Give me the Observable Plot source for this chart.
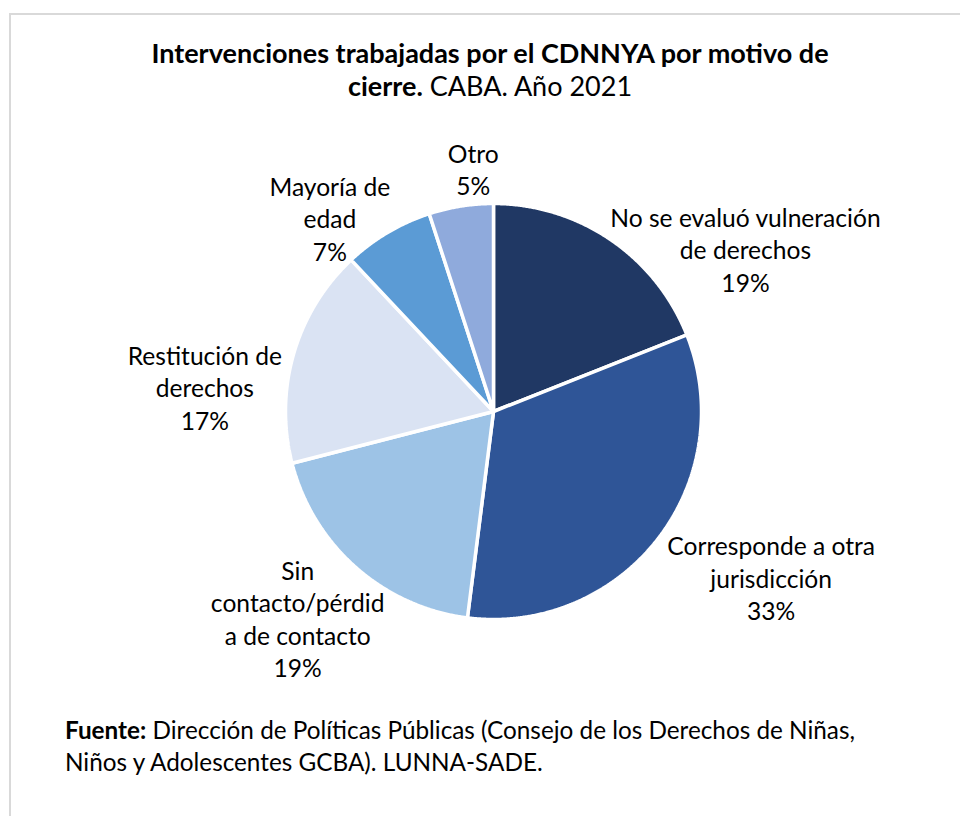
<!DOCTYPE html>
<html>
<head>
<meta charset="utf-8">
<script src="https://cdn.jsdelivr.net/npm/d3@7"></script>
<script src="https://cdn.jsdelivr.net/npm/@observablehq/plot@0.6"></script>
<style>
  html, body { margin: 0; padding: 0; background: #fff; }
  #page { position: relative; width: 960px; height: 816px; overflow: hidden; font-family: Lato, "Open Sans", sans-serif; color: #000; }
  #frame { position: absolute; left: 9px; top: 13px; width: 1000px; height: 900px; border: 2px solid #d9d9d9; box-sizing: border-box; }
  #title { position: absolute; left: 0; top: 36px; width: 980px; text-align: center; font-size: 27px; line-height: 33px; }
  #chart { position: absolute; left: 0; top: 0; }
  #caption { position: absolute; left: 65px; top: 714px; font-size: 24.3px; line-height: 32px; white-space: nowrap; }
</style>
</head>
<body>
<div id="page">
  <div id="frame"></div>
  <div id="title"><b>Intervenciones trabajadas por el CDNNYA por motivo de<br>cierre.</b> CABA. Año 2021</div>
  <div id="chart"></div>
  <div id="caption"><b>Fuente:</b> Dirección de Políticas Públicas (Consejo de los Derechos de Niñas,<br>Niños y Adolescentes GCBA). LUNNA-SADE.</div>
</div>
<script>
// ---- data ----
const categories = [
  "No se evaluó vulneración de derechos",
  "Corresponde a otra jurisdicción",
  "Sin contacto/pérdida de contacto",
  "Restitución de derechos",
  "Mayoría de edad",
  "Otro"
];
const shares = [19, 33, 19, 17, 7, 5];
const labelTexts = [
  "No se evaluó vulneración\nde derechos",
  "Corresponde a otra\njurisdicción",
  "Sin\ncontacto/pérdid\na de contacto",
  "Restitución de\nderechos",
  "Mayoría de\nedad",
  "Otro"
];

// ---- layout (not data) ----
const R = 208; // px radius
const palette = ["#203864", "#2F5597", "#9DC3E6", "#DAE3F3", "#5B9BD5", "#8FAADC"];
const labelNudgePx = { // pixel nudges from radial position
  0: [100, 61], 1: [64, 0], 2: [-17, 4], 3: [-29, 51], 4: [-26, 39], 5: [22, 24]
};

const rows = categories.map((c, i) => ({category: c, share: shares[i], label: labelTexts[i] + "\n" + shares[i] + "%", i}));
const arcs = d3.pie().sort(null).value(d => d.share)(rows);

const slicePts = [];
for (const a of arcs) {
  slicePts.push({category: a.data.category, x: 0, y: 0});
  const n = Math.max(2, Math.ceil((a.endAngle - a.startAngle) / 0.005));
  for (let k = 0; k <= n; k++) {
    const t = a.startAngle + (a.endAngle - a.startAngle) * k / n;
    slicePts.push({category: a.data.category, x: Math.sin(t), y: Math.cos(t)});
  }
  slicePts.push({category: a.data.category, x: 0, y: 0});
}

const labels = arcs.map(a => {
  const m = (a.startAngle + a.endAngle) / 2;
  const [nx, ny] = labelNudgePx[a.data.i];
  return {label: a.data.label, x: 1.3 * Math.sin(m) + nx / R, y: 1.3 * Math.cos(m) - ny / R};
});

const fs = 24.6;
const chart = Plot.plot({
  width: 960,
  height: 816,
  margin: 0,
  x: {domain: [-1, 1], range: [493 - R, 493 + R], axis: null},
  y: {domain: [-1, 1], range: [411 + R, 411 - R], axis: null},
  color: {domain: categories, range: palette},
  style: {fontFamily: "Lato, 'Open Sans', sans-serif", background: "transparent"},
  marks: [
    Plot.line(slicePts, {x: "x", y: "y", z: "category", fill: "category", stroke: "white", strokeWidth: 3.5, strokeLinejoin: "miter", curve: "linear"}),
    Plot.text(labels, {x: "x", y: "y", text: "label", fontSize: fs, lineHeight: 32.5 / fs, fill: "black", textAnchor: "middle", lineAnchor: "middle"})
  ]
});
document.getElementById("chart").appendChild(chart);
</script>
</body>
</html>
